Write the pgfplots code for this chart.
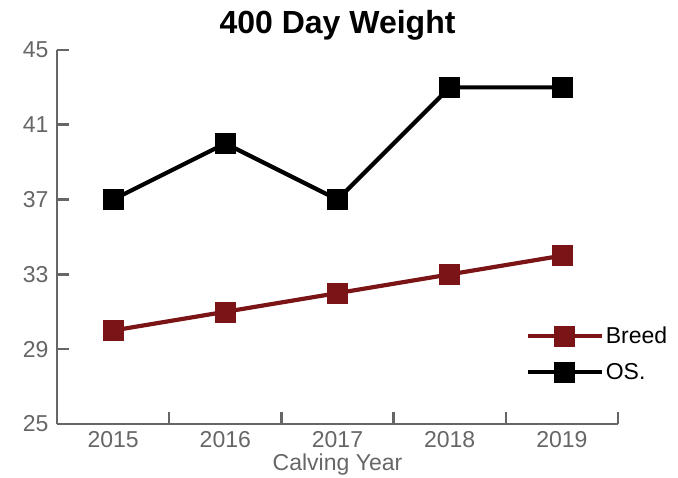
\documentclass[border=0pt]{standalone}
\usepackage{pgfplots}
\pgfplotsset{compat=1.18}
\usepackage{fontspec}
\setmainfont{Liberation Sans}
\definecolor{breed}{HTML}{7B1416}
\definecolor{axgray}{HTML}{666666}
\begin{document}
\begin{tikzpicture}
\begin{axis}[
  at={(0pt,0pt)}, anchor=origin,
  scale only axis, width=561pt, height=374pt,
  xmin=2014.5, xmax=2019.5, ymin=25, ymax=45,
  axis x line*=bottom, axis y line*=left,
  axis line style={axgray, line width=2.6pt, -},
  xtick={2014.5,2015.5,2016.5,2017.5,2018.5,2019.5},
  xticklabels={},
  extra x ticks={2015,2016,2017,2018,2019},
  extra x tick labels={2015,2016,2017,2018,2019},
  extra x tick style={tick style={draw=none}},
  ytick={25,29,33,37,41,45},
  major tick length=12pt,
  tick style={axgray, line width=2.6pt},
  tick align=inside,
  every tick label/.append style={font=\fontsize{23}{26}\selectfont, text=axgray},
  /pgf/number format/assume math mode=true,
  /pgf/number format/1000 sep={},
  xticklabel style={yshift=-4pt},
  yticklabel style={xshift=-5pt},
  xlabel={Calving Year},
  xlabel style={font=\fontsize{23}{26}\selectfont, text=axgray, yshift=-4pt, text depth=0pt, text height=12pt},
  title={\textbf{400 Day Weight}},
  title style={font=\fontsize{32}{36}\selectfont, yshift=0pt},
  clip=false,
  legend style={draw=none, fill=none, at={(0.835,0.265)}, anchor=north west,
    font=\fontsize{23}{26}\selectfont, row sep=14pt, inner sep=0pt},
  legend cell align=left,
  legend image code/.code={\draw[mark repeat=2,mark phase=2,#1] plot coordinates {(0pt,0pt) (37pt,0pt) (74pt,0pt)};},
]
\addplot[breed, line width=4.2pt, mark=square*, mark size=10pt, mark options={rounded corners=2.5pt, line width=0.5pt}]
  coordinates {(2015,30) (2016,31) (2017,32) (2018,33) (2019,34)};
\addlegendentry{Breed}
\addplot[black, line width=4.2pt, mark=square*, mark size=10pt, mark options={rounded corners=2.5pt, line width=0.5pt}]
  coordinates {(2015,37) (2016,40) (2017,37) (2018,43) (2019,43)};
\addlegendentry{OS.}
\end{axis}
\useasboundingbox (-57pt,-54pt) rectangle (621pt,424pt);
\end{tikzpicture}
\end{document}
